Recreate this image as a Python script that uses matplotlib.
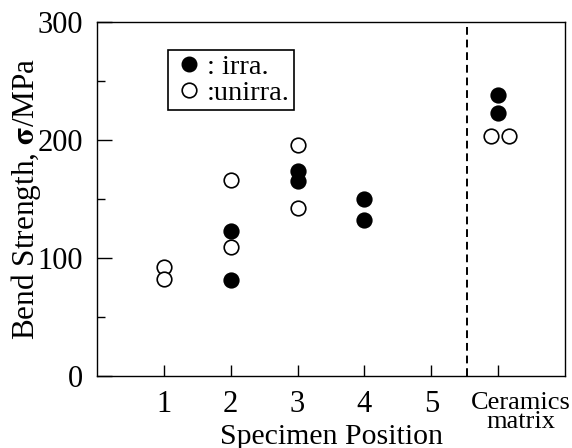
import numpy as np
import matplotlib.pyplot as plt
from matplotlib.lines import Line2D

plt.rcParams['font.family'] = ['Liberation Serif', 'DejaVu Serif']
plt.rcParams['mathtext.fontset'] = 'stix'

# irradiated (filled) points
irra_x = [2, 2, 3, 3, 4, 4, 6, 6]
irra_y = [123, 81, 174, 165, 150, 132, 238, 223]

# unirradiated (open) points
unirra_x = [1, 1, 2, 2, 3, 3, 5.89, 6.16]
unirra_y = [92, 82, 166, 109, 196, 142, 203, 203]

xticks = [1, 2, 3, 4, 5]
xtick_labels = ['1', '2', '3', '4', '5']
ceramics_x = 6
divider_x = 5.54

fig = plt.figure(figsize=(5.72, 4.48), dpi=100)
ax = fig.add_axes([97 / 572, 1 - 376 / 448, 468 / 572, 354 / 448])

ax.plot(irra_x, irra_y, 'o', color='black', ms=10.5, mew=1.2, zorder=3)
ax.plot(unirra_x, unirra_y, 'o', mfc='white', mec='black', ms=10.5, mew=1.2, zorder=3)

ax.axvline(divider_x, color='black', ls=(0, (4, 2.5)), lw=1.4)

ax.set_xlim(0, 7)
ax.set_ylim(0, 300)

ax.set_xticks(xticks + [ceramics_x])
ax.set_xticklabels(xtick_labels + [''])
ax.text(6.34, -0.045, 'Ceramics\nmatrix', transform=ax.get_xaxis_transform(),
        ha='center', va='top', fontsize=19, linespacing=0.8)

ax.set_yticks([0, 100, 200, 300])
ax.set_yticks([50, 150, 250], minor=True)
ax.tick_params(axis='y', which='major', direction='in', length=11, width=1,
               labelsize=22, pad=10)
ax.tick_params(axis='y', which='minor', direction='in', length=6, width=1)
ax.tick_params(axis='x', direction='in', length=8, width=1, labelsize=22, pad=10)

ax.set_xlabel('Specimen Position', fontsize=21.5, labelpad=3.5)
ax.set_ylabel('Bend Strength, $\\mathbf{\\sigma}$/MPa', fontsize=22.5, labelpad=-4)

for s in ax.spines.values():
    s.set_linewidth(1)

handles = [
    Line2D([], [], marker='o', ls='', color='black', ms=10.5),
    Line2D([], [], marker='o', ls='', mfc='white', mec='black', ms=10.5, mew=1.2),
]
leg = ax.legend(handles, [': irra.', ':unirra.'], loc='upper left',
                bbox_to_anchor=(0.152, 0.921), fontsize=20.5, handletextpad=0.0,
                handlelength=1.2, borderpad=0.15, labelspacing=0.0,
                borderaxespad=0, fancybox=False, edgecolor='black', framealpha=1)
leg.get_frame().set_linewidth(1.2)

fig.savefig('out.png', dpi=100)
